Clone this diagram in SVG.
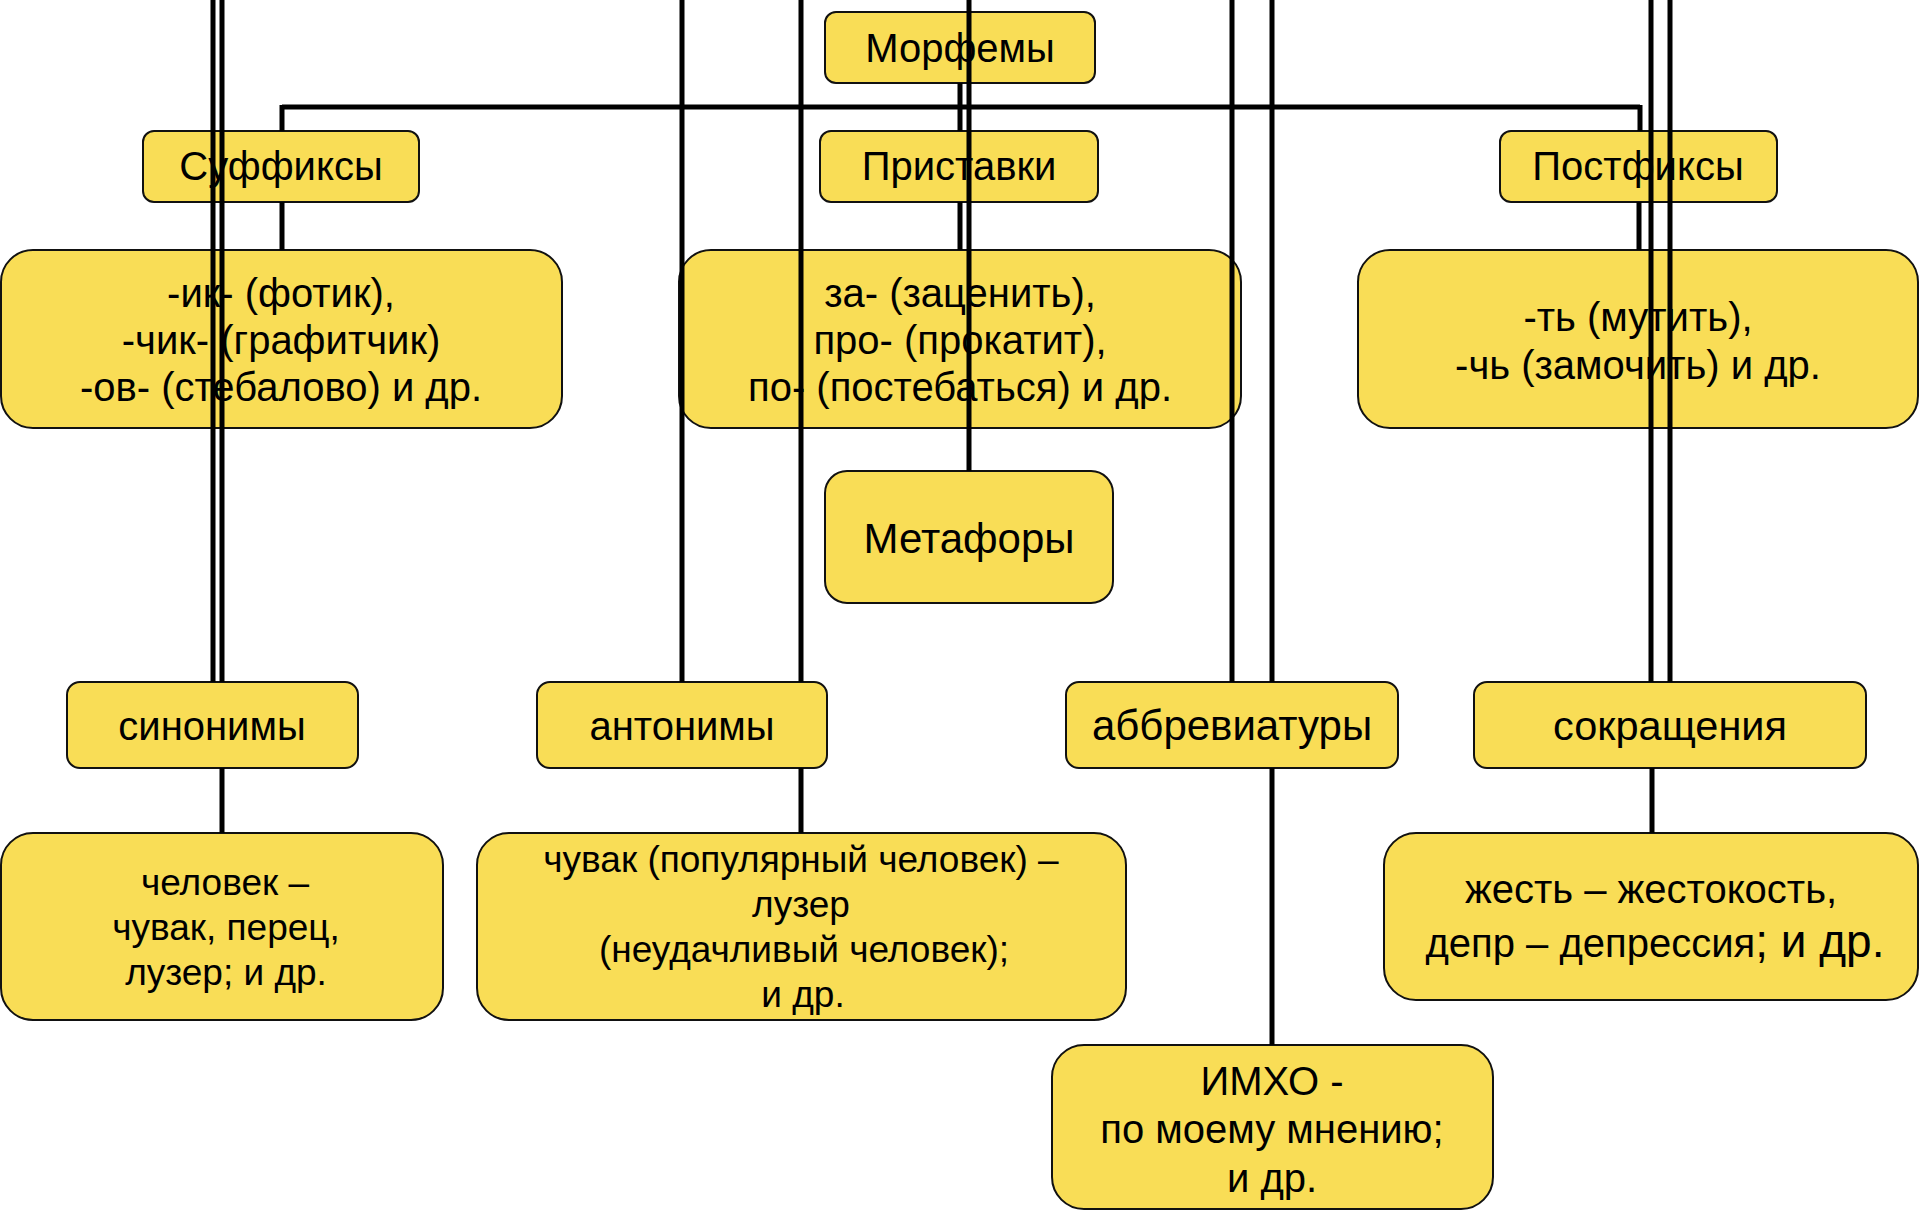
<svg xmlns="http://www.w3.org/2000/svg" width="1920" height="1211" viewBox="0 0 1920 1211">
<style>
.box{fill:#F9DD56;stroke:#111;stroke-width:2}
.t{font-family:"Liberation Sans",Arial,sans-serif;font-size:40px;fill:#000;text-anchor:middle}
.s{font-size:37px}
.c{stroke:#000;stroke-width:5;fill:none}
</style>
<rect width="1920" height="1211" fill="#fff"/>
<g id="nodes">
<g id="morphemes"><rect class="box" x="825" y="12" width="270" height="71" rx="11"/><text class="t" x="960" y="62">Морфемы</text></g>
<g id="suffixes"><rect class="box" x="143" y="131" width="276" height="71" rx="11"/><text class="t" x="281" y="180">Суффиксы</text></g>
<g id="prefixes"><rect class="box" x="820" y="131" width="278" height="71" rx="11"/><text class="t" x="959" y="180">Приставки</text></g>
<g id="postfixes"><rect class="box" x="1500" y="131" width="277" height="71" rx="11"/><text class="t" x="1638" y="180">Постфиксы</text></g>
<g id="suffix-examples"><rect class="box" x="1" y="250" width="561" height="178" rx="32"/><text class="t" x="281"><tspan x="281" y="307">-ик- (фотик),</tspan><tspan x="281" y="354">-чик- (графитчик)</tspan><tspan x="281" y="401">-ов- (стебалово) и др.</tspan></text></g>
<g id="prefix-examples"><rect class="box" x="679" y="250" width="562" height="178" rx="32"/><text class="t" x="960"><tspan x="960" y="307">за- (заценить),</tspan><tspan x="960" y="354">про- (прокатит),</tspan><tspan x="960" y="401">по- (постебаться) и др.</tspan></text></g>
<g id="postfix-examples"><rect class="box" x="1358" y="250" width="560" height="178" rx="32"/><text class="t" x="1638"><tspan x="1638" y="331">-ть (мутить),</tspan><tspan x="1638" y="379">-чь (замочить) и др.</tspan></text></g>
<g id="metaphors"><rect class="box" x="825" y="471" width="288" height="132" rx="22"/><text class="t" x="969" y="553" style="font-size:42px">Метафоры</text></g>
<g id="synonyms"><rect class="box" x="67" y="682" width="291" height="86" rx="13"/><text class="t" x="212" y="740">синонимы</text></g>
<g id="antonyms"><rect class="box" x="537" y="682" width="290" height="86" rx="13"/><text class="t" x="682" y="740">антонимы</text></g>
<g id="abbreviations"><rect class="box" x="1066" y="682" width="332" height="86" rx="13"/><text class="t" x="1232" y="740" style="font-size:42px">аббревиатуры</text></g>
<g id="shortenings"><rect class="box" x="1474" y="682" width="392" height="86" rx="13"/><text class="t" x="1670" y="740" style="font-size:41.5px">сокращения</text></g>
<g id="synonym-examples"><rect class="box" x="1" y="833" width="442" height="187" rx="32"/><text class="t s" x="225"><tspan x="225" y="895">человек –</tspan><tspan x="226" y="940">чувак, перец,</tspan><tspan x="226" y="985">лузер; и др.</tspan></text></g>
<g id="antonym-examples"><rect class="box" x="477" y="833" width="649" height="187" rx="32"/><text class="t s" x="801"><tspan x="801" y="872">чувак (популярный человек) –</tspan><tspan x="801" y="917">лузер</tspan><tspan x="804" y="962">(неудачливый человек);</tspan><tspan x="803" y="1007">и др.</tspan></text></g>
<g id="imho"><rect class="box" x="1052" y="1045" width="441" height="164" rx="32"/><text class="t" x="1272"><tspan x="1272" y="1095">ИМХО -</tspan><tspan x="1272" y="1143">по моему мнению;</tspan><tspan x="1272" y="1192">и др.</tspan></text></g>
<g id="shortening-examples"><rect class="box" x="1384" y="833" width="534" height="167" rx="32"/><text class="t" x="1651"><tspan x="1651" y="903">жесть – жестокость,</tspan><tspan x="1655" y="957">депр – депрессия<tspan style="font-size:46px">; и др.</tspan></tspan></text></g>
</g>
<g id="connectors" class="c">
<path class="c" d="M960 83V131M282 107H1640M282 105V131M1640 105V131"/>
<path class="c" d="M282 202V250M960 202V250M1639 202V250"/>
<path class="c" d="M213 0V682M222 0V682M682 0V682M801 0V682M969 0V471M1232 0V682M1272 0V682M1651 0V682M1670 0V682"/>
<path class="c" d="M222 768V833M801 768V833M1272 768V1045M1652 768V833"/>
</g>
</svg>
